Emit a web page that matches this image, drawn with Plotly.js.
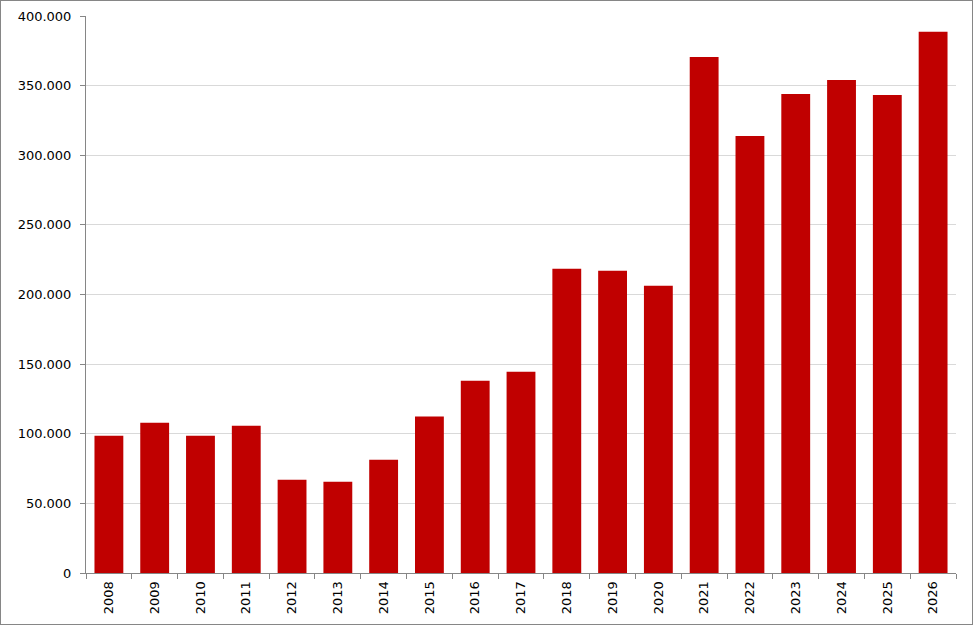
<!DOCTYPE html>
<html>
<head>
<meta charset="utf-8">
<script src="https://cdn.plot.ly/plotly-3.0.1.min.js"></script>
<style>
  body { margin: 0; background: #fff; }
  #chart { width: 973px; height: 625px; box-sizing: border-box; border: 1px solid #868686; }
</style>
</head>
<body>
<div id="chart"></div>
<script>
// years and values
const years = ["2008", "2009", "2010", "2011", "2012", "2013", "2014", "2015", "2016", "2017",
  "2018", "2019", "2020", "2021", "2022", "2023", "2024", "2025", "2026"]
const values = [98600, 107900, 98600, 105700, 67000, 65500, 81300, 112300, 138000, 144500,
  218500, 217000, 206300, 370600, 313800, 344000, 354000, 343300, 388600]

const axisFont = { family: 'Tahoma, "DejaVu Sans", sans-serif', size: 13, color: '#000' }

Plotly.newPlot('chart', [{
  type: 'bar',
  x: years,
  y: values,
  marker: { color: '#c00000' },
  hoverinfo: 'x+y'
}], {
  width: 971,
  height: 623,
  margin: { l: 85, r: 16, t: 15, b: 51 },
  separators: ',.',
  bargap: 0.37,
  showlegend: false,
  paper_bgcolor: '#fff',
  plot_bgcolor: '#fff',
  xaxis: {
    type: 'category',
    tickson: 'boundaries',
    ticks: 'outside',
    ticklen: 5,
    tickcolor: '#868686',
    showline: true,
    linecolor: '#868686',
    showgrid: false,
    tickangle: -90,
    ticklabelstandoff: 2,
    tickfont: axisFont
  },
  yaxis: {
    range: [0, 400000],
    dtick: 50000,
    tickformat: ',d',
    ticks: 'outside',
    ticklen: 5,
    tickcolor: '#868686',
    showline: true,
    linecolor: '#868686',
    gridcolor: '#d9d9d9',
    zeroline: false,
    ticklabelstandoff: 6,
    tickfont: axisFont
  }
}, { displayModeBar: false });
</script>
</body>
</html>
